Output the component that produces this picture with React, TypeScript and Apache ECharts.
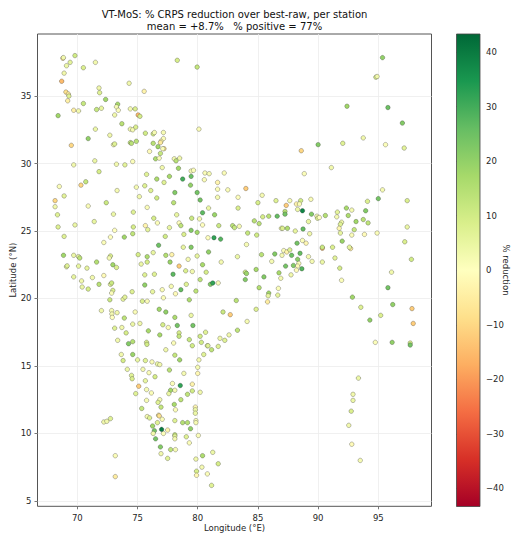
import React, { useEffect, useRef } from "react";
import * as echarts from "echarts";

type Row = [number, number, number];

const titleLines = ["VT-MoS: % CRPS reduction over best-raw, per station", "mean = +8.7%   % positive = 77%"];
const xName = "Longitude (°E)";
const yName = "Latitude (°N)";
const barName = "% reduction";
const lonRange = [66.69, 99.42];
const latRange = [4.6, 39.6];
const pctRange = [-43.3, 43.3];
const lonTicks = [70, 75, 80, 85, 90, 95];
const latTicks = [5, 10, 15, 20, 25, 30, 35];
const pctTicks = [-40, -30, -20, -10, 0, 10, 20, 30, 40];
const rdYlGn = ["#a50026", "#d73027", "#f46d43", "#fdae61", "#fee08b", "#ffffbf", "#d9ef8b", "#a6d96a", "#66bd63", "#1a9850", "#006837"];

const stationsNorth: Row[] = [
  [68.8, 37.8, -8], [68.84, 37.85, 3], [69.8, 38.0, 10], [69.4, 37.5, 6], [69.1, 37.25, 4], [70.5, 37.1, 8], [71.5, 37.5, 3],
  [68.9, 36.7, 3], [68.7, 36.1, -15], [78.3, 37.65, 9], [79.95, 37.15, 12], [71.8, 35.6, 3], [71.85, 35.25, 7], [74.3, 35.95, 3],
  [75.55, 35.35, -3], [69.05, 35.3, -8], [69.25, 35.15, -5], [69.3, 35.0, 7], [69.2, 34.65, -4], [70.5, 34.45, 12], [72.35, 34.75, 18],
  [73.35, 34.4, 17], [73.25, 34.2, 2], [72.0, 34.1, 5], [71.6, 34.0, 12], [73.4, 33.95, 1], [74.4, 34.05, 2], [74.8, 34.05, 8],
  [69.7, 33.95, -4], [70.1, 33.9, 3], [68.4, 33.55, 18], [73.1, 33.6, 3], [75.05, 33.6, -15], [75.2, 33.5, 9], [73.7, 32.95, 14],
  [71.5, 32.55, 4], [74.4, 32.55, 3], [74.6, 32.5, 2], [74.85, 32.7, 8], [75.65, 32.25, 10], [76.3, 32.2, 10], [76.4, 32.3, 2],
  [77.15, 32.3, 2], [80.1, 32.55, 1], [72.7, 32.1, 3], [70.9, 31.85, 20], [69.5, 31.35, -10], [73.0, 31.4, 3], [73.1, 31.45, 7],
  [74.4, 31.55, 12], [74.5, 31.5, 14], [74.9, 31.65, 14], [77.15, 31.85, 1], [76.95, 31.65, -2], [76.9, 31.55, -6], [76.3, 31.5, 14],
  [76.7, 31.25, 18], [77.2, 31.1, -8], [77.1, 31.1, 1], [76.0, 30.9, -1], [76.9, 30.75, 12], [76.5, 30.35, 16], [76.8, 30.4, 1],
  [78.05, 30.35, 2], [78.5, 30.4, 3], [78.2, 30.2, 14], [71.45, 30.2, 4], [69.7, 29.9, 3], [73.25, 29.95, 3], [73.95, 29.9, 6],
  [74.6, 30.15, 1], [71.8, 29.4, 9], [77.05, 29.7, 3], [78.4, 29.65, 18], [79.45, 29.45, 1], [79.65, 29.5, 1], [75.75, 29.2, 7],
  [76.6, 28.85, 16], [77.65, 29.05, 17], [78.75, 28.85, 30], [79.45, 29.05, 25], [80.6, 29.3, 1], [80.95, 29.25, 2], [82.2, 29.3, 1],
  [80.55, 28.8, 1], [81.65, 28.6, -3], [77.2, 28.6, 7], [79.4, 28.4, 20], [68.5, 28.3, 1], [70.3, 28.4, -10], [70.7, 28.65, 12],
  [74.9, 28.25, 2], [75.6, 28.35, 7], [73.3, 28.0, 2], [76.1, 28.0, 7], [81.65, 28.1, 1], [82.5, 28.05, 1],
  [95.35, 37.85, 20], [94.8, 36.4, 8], [94.9, 36.45, 3], [92.4, 34.25, 18], [95.8, 34.15, 25], [97.0, 33.0, 22], [93.75, 31.9, 3],
  [92.05, 31.5, 7], [90.0, 31.4, 22], [88.6, 30.95, -10], [95.6, 31.4, 1], [97.15, 31.15, 6], [91.1, 29.7, 3], [88.85, 29.25, 1],
];

const stationsCentral: Row[] = [
  [68.15, 27.25, -10], [68.9, 27.6, 6], [68.15, 26.8, 3], [68.35, 26.2, 7], [68.4, 25.3, 7], [69.8, 25.45, 4], [68.9, 24.6, 7],
  [70.9, 26.85, 1], [71.4, 25.7, 5], [72.4, 27.1, 11], [73.0, 26.25, 4], [73.1, 25.05, 0], [72.75, 24.55, 0], [72.2, 24.15, 1],
  [73.9, 24.55, 18], [74.65, 26.4, 7], [74.65, 25.3, 9], [74.6, 24.8, 13], [75.15, 27.55, 3], [75.8, 26.75, 1], [76.6, 27.45, 10],
  [76.35, 25.95, 9], [76.65, 25.6, 1], [75.65, 25.4, -3], [75.85, 25.1, 6], [77.65, 25.25, 5], [77.3, 24.6, 10], [78.1, 27.85, 22],
  [78.0, 27.1, 14], [78.25, 26.2, 5], [78.45, 25.6, 0], [78.6, 25.4, 13], [79.5, 25.95, 11], [80.15, 25.9, 2], [80.4, 25.45, 0],
  [79.95, 27.85, 24], [80.2, 27.3, 24], [80.4, 26.35, 27], [81.4, 26.2, 19], [80.9, 26.7, 4], [81.65, 27.5, 2], [83.35, 27.5, 0],
  [83.35, 26.7, 8], [81.75, 25.4, 11], [82.9, 25.4, 14], [83.05, 25.25, 12], [83.45, 25.35, 2], [79.45, 25.05, 22], [79.95, 24.9, 18],
  [78.85, 24.75, 8], [80.85, 24.5, 0], [81.35, 24.5, 32], [81.9, 24.4, 28], [76.75, 23.95, 25], [78.8, 23.8, 5], [79.45, 23.8, 22],
  [80.9, 23.45, 20], [79.95, 23.15, 5], [83.3, 23.1, 4], [75.05, 23.25, 9], [76.3, 23.4, 5], [77.35, 23.2, 15], [77.85, 23.25, -3],
  [75.8, 23.1, 16], [75.8, 22.7, 9], [75.3, 22.55, 4], [77.7, 22.7, 19], [79.2, 22.9, 2], [78.45, 22.4, -12], [80.4, 22.5, 17],
  [81.95, 22.7, 2], [68.85, 23.2, 18], [69.7, 23.2, 4], [70.1, 23.1, 5], [70.2, 23.0, 13], [69.1, 22.35, 4], [69.15, 22.42, 7],
  [70.1, 22.4, 5], [70.8, 22.25, 5], [71.6, 22.7, 15], [72.75, 23.15, 8], [72.65, 23.0, 2], [72.95, 22.5, 18], [73.25, 22.3, 8],
  [69.7, 21.6, 5], [70.35, 21.3, 3], [70.4, 20.85, 4], [70.9, 20.7, 9], [71.25, 21.55, 3], [72.2, 21.7, -1], [71.8, 21.05, 14],
  [72.75, 21.05, 6], [72.85, 21.15, 11], [72.95, 20.6, 8], [72.85, 20.4, 1], [75.6, 21.75, 7], [76.4, 21.8, 7], [77.95, 21.8, 27],
  [79.0, 22.05, 8], [79.55, 22.0, 3], [80.7, 21.95, 9], [80.2, 21.4, 13], [75.6, 21.0, 20], [77.05, 20.65, 1], [77.8, 20.9, 2],
  [79.05, 21.05, 7], [76.25, 20.5, 5], [78.6, 20.65, 26], [79.85, 20.55, 13], [78.15, 20.35, -1], [81.05, 21.05, 22], [81.25, 21.15, 32],
  [81.7, 21.15, 1], [74.55, 20.5, 7], [72.7, 19.9, 11], [73.8, 19.95, 5], [73.95, 20.1, 6], [75.4, 19.8, 8], [75.8, 19.8, 1],
  [77.15, 20.05, 1], [79.3, 19.9, 16], [83.2, 19.85, 14], [72.0, 19.1, 3], [72.85, 19.1, 2], [72.87, 18.85, 2], [72.9, 18.6, 0],
  [73.3, 18.95, 3], [74.8, 19.0, 1], [76.8, 19.2, 18], [77.35, 19.0, 20], [78.1, 18.6, 16], [79.45, 18.75, 4], [82.1, 19.0, 11],
  [82.7, 18.8, -12], [73.9, 18.55, 13], [74.6, 18.1, 4], [75.2, 18.15, 3], [73.1, 17.8, 7], [73.7, 17.85, 3], [74.05, 17.45, 9],
  [75.9, 17.6, 17], [77.1, 18.05, 9], [77.55, 17.85, 1], [78.3, 18.0, 24], [79.6, 18.0, 24], [76.85, 17.3, 17], [78.45, 17.45, 9],
  [78.45, 17.2, 12], [80.65, 17.5, 7], [80.2, 17.2, 10], [81.85, 17.05, 3], [82.6, 17.3, 3], [82.25, 16.9, 7], [83.3, 17.65, 13],
  [73.35, 16.9, 3], [74.25, 16.65, 22], [74.6, 16.8, 15], [75.75, 16.75, 8], [75.78, 16.6, 10], [78.0, 16.7, 1], [79.3, 16.95, 12],
  [80.3, 16.75, 10], [80.8, 16.5, 7],
];

const stationsEast: Row[] = [
  [84.0, 28.15, -12], [85.35, 27.65, 2], [85.0, 27.1, 9], [86.5, 27.25, 7], [87.65, 27.25, 2], [88.55, 27.25, 10], [89.4, 27.35, 1],
  [88.2, 27.0, -3], [88.45, 27.0, 1], [87.35, 26.9, -12], [88.3, 26.6, 4], [87.25, 26.45, 14], [87.25, 26.25, 24], [88.7, 26.5, 38],
  [89.45, 26.25, 22], [85.4, 26.05, 9], [85.9, 26.1, 14], [86.6, 26.1, 26], [89.9, 26.1, 1], [89.95, 25.95, 8], [90.1, 26.0, 0],
  [90.6, 26.15, 15], [91.6, 26.4, 6], [91.55, 26.05, 2], [92.35, 26.7, 17], [92.8, 26.55, 2], [92.5, 26.15, 16], [93.95, 26.5, 22],
  [93.15, 25.7, 18], [93.75, 25.85, 14], [94.15, 25.6, 13], [91.95, 25.65, 3], [91.85, 25.5, 7], [91.75, 25.2, -2], [93.0, 25.1, 12],
  [91.85, 24.85, 5], [92.8, 24.7, 1], [93.85, 24.75, -1], [94.9, 24.85, 1], [97.4, 25.3, 4], [95.35, 28.05, 2], [95.0, 27.4, 24],
  [94.1, 27.2, 8], [97.4, 27.25, 8], [84.7, 25.75, 14], [85.1, 25.55, 14], [89.2, 25.7, 5], [86.95, 25.2, 3], [87.05, 25.2, 8],
  [87.45, 25.2, 16], [88.1, 25.0, 5], [88.75, 25.15, 26], [89.3, 24.8, 3], [84.15, 24.85, 12], [84.9, 24.7, 10], [84.05, 24.0, 2],
  [88.25, 24.1, 24], [88.7, 24.3, 1], [89.0, 24.1, -2], [92.0, 24.25, 19], [97.2, 24.2, 8], [90.35, 23.72, -15], [90.35, 23.8, 11],
  [91.2, 23.8, 8], [92.7, 23.7, -6], [92.6, 23.8, 6], [87.15, 23.55, 1], [87.4, 23.45, -3], [87.65, 23.6, 7], [88.5, 23.35, 26],
  [87.0, 23.2, 2], [87.8, 23.2, 25], [86.4, 23.3, 22], [85.3, 23.25, 14], [88.3, 22.9, 21], [89.2, 23.1, 2], [86.15, 22.75, 2],
  [89.5, 22.75, 2], [90.35, 22.7, 4], [91.4, 23.0, 6], [97.75, 22.9, 10], [87.3, 22.4, 24], [87.95, 22.45, 22], [88.4, 22.6, 1],
  [88.3, 22.4, -1], [88.65, 22.2, 28], [88.2, 22.1, -1], [91.8, 22.25, 9], [84.85, 22.15, 17], [83.95, 21.95, 10], [84.05, 21.85, 19],
  [86.9, 21.5, 2], [86.75, 21.9, 17], [87.75, 21.75, 3], [85.5, 21.6, 22], [83.95, 21.4, 22], [91.95, 21.35, 1], [96.1, 21.95, 3],
  [85.1, 20.8, 15], [86.7, 20.75, 1], [85.9, 20.4, 18], [85.85, 20.2, 5], [86.65, 20.25, 5], [85.8, 19.75, -5], [92.85, 20.1, 18],
  [95.8, 20.8, 24], [96.2, 19.55, 20], [93.55, 19.35, 7], [95.2, 18.75, 8], [94.3, 18.4, 20], [97.8, 19.25, -12], [97.9, 18.15, -12],
  [84.85, 19.2, 7], [84.1, 18.3, 2], [94.75, 16.75, 1], [96.15, 16.75, 20], [97.65, 16.7, 8], [97.65, 16.55, 24],
];

const stationsSouth: Row[] = [
  [73.65, 15.85, 3], [73.8, 15.4, 9], [74.6, 15.85, 19], [75.0, 15.45, 5], [75.65, 15.4, 7], [76.2, 15.3, 1], [76.65, 15.15, 4],
  [76.85, 15.1, 3], [77.35, 16.2, 3], [78.1, 15.8, 12], [78.5, 15.45, 18], [79.55, 16.5, 10], [80.85, 16.5, 7], [81.15, 16.2, 13],
  [81.7, 16.45, 7], [80.5, 15.85, 7], [80.1, 15.45, 2], [80.0, 14.9, 2], [80.0, 14.45, -2], [78.85, 14.45, 2], [77.65, 14.7, 14],
  [74.15, 14.75, 4], [75.45, 14.75, 2], [75.95, 14.5, 1], [76.45, 14.2, 9], [74.5, 14.3, 7], [74.55, 14.05, 8], [75.65, 13.9, 5],
  [75.1, 13.5, -12], [77.9, 13.7, 1], [78.55, 13.55, 32], [79.55, 13.65, -3], [75.75, 13.25, 2], [76.15, 13.0, 1], [74.85, 12.95, 7],
  [77.75, 13.2, 18], [78.1, 13.2, 2], [77.6, 12.95, 5], [79.15, 12.9, 13], [79.55, 13.15, 10], [80.2, 13.05, 3], [75.75, 12.45, 2],
  [76.85, 12.5, 2], [76.7, 12.3, 7], [78.05, 12.15, 17], [78.6, 12.5, 13], [76.95, 11.95, 12], [75.35, 11.85, 12], [79.8, 11.95, -2],
  [79.8, 11.75, 4], [79.8, 11.5, 4], [78.15, 11.75, 1], [76.75, 11.35, -5], [76.8, 11.3, -8], [75.8, 11.25, 2], [76.0, 11.15, 7],
  [77.05, 11.05, 1], [76.65, 10.8, 7], [78.1, 10.95, 7], [78.75, 10.8, 15], [79.15, 10.8, 15], [79.85, 10.95, 1], [79.85, 10.8, 2],
  [76.25, 10.55, 18], [76.4, 10.2, 24], [77.5, 10.25, -3], [76.3, 10.0, 3], [77.15, 10.0, 1], [79.4, 10.35, 20], [78.1, 9.9, 12],
  [78.1, 9.8, 7], [78.1, 9.6, 2], [79.05, 9.75, 7], [80.05, 9.85, 1], [76.5, 9.6, 24], [79.3, 9.3, 1], [76.9, 9.0, 22], [77.75, 8.8, 13],
  [78.15, 8.8, 2], [76.95, 8.5, 3], [77.5, 8.15, 7], [80.4, 8.35, 16], [81.25, 8.6, 4], [79.85, 8.1, 3], [81.7, 7.75, 9], [80.35, 7.5, 2],
  [79.9, 7.2, 9], [79.9, 6.9, -2], [80.8, 7.0, 1], [81.15, 6.15, 7], [72.2, 10.85, 3], [72.45, 10.9, 3], [72.75, 11.1, 7], [73.15, 8.35, 1],
  [73.15, 6.8, -5], [93.35, 14.1, 4], [92.9, 12.9, 3], [92.9, 12.45, 4], [92.75, 11.65, 8], [92.55, 10.6, 3], [92.8, 9.2, -1], [93.5, 8.0, 2],
  [77.0, 10.3, 40],
];

const stations: Row[] = [...stationsNorth, ...stationsCentral, ...stationsEast, ...stationsSouth];

const textColor = "#262626";
const frameColor = "#555555";
const font = "DejaVu Sans";
const minusSign = (v: number | string) => String(v).replace("-", "\u2212");

export default function App() {
  const ref = useRef<HTMLDivElement>(null);

  useEffect(() => {
    if (!ref.current) return;
    const chart = echarts.init(ref.current, undefined, { renderer: "svg" });
    const tickStyle = { show: true, length: 3, lineStyle: { color: frameColor, width: 0.8 } };
    const labelStyle = { color: textColor, fontSize: 8.5, fontFamily: font, margin: 6 };
    const bar = { left: 456.5, top: 34, width: 23.5, height: 472.5 };

    chart.setOption({
      animation: false,
      backgroundColor: "#ffffff",
      textStyle: { fontFamily: font },
      title: {
        text: titleLines.join("\n"),
        left: 234.5,
        top: 8,
        padding: 0,
        textAlign: "center",
        textStyle: { fontSize: 10, fontWeight: "normal", color: "#111111", fontFamily: font, lineHeight: 12 },
      },
      grid: [
        { left: 37.5, top: 34, width: 394, height: 472.3, outerBoundsMode: "none", show: true, borderColor: frameColor, borderWidth: 1, backgroundColor: "#ffffff" },
        { ...bar, outerBoundsMode: "none", show: false },
      ],
      xAxis: [
        {
          type: "value",
          gridIndex: 0,
          min: lonRange[0],
          max: lonRange[1],
          splitNumber: 6,
          name: xName,
          nameLocation: "middle",
          nameGap: 17,
          nameMoveOverlap: false,
          nameTextStyle: { color: textColor, fontSize: 8.5, fontFamily: font },
          axisLine: { show: false },
          axisTick: { ...tickStyle, customValues: lonTicks },
          axisLabel: { ...labelStyle, margin: 7, customValues: lonTicks },
          splitLine: { show: true, lineStyle: { color: "#ececec", width: 0.8 } },
        },
        { type: "value", gridIndex: 1, min: 0, max: 1, show: false },
      ],
      yAxis: [
        {
          type: "value",
          gridIndex: 0,
          min: latRange[0],
          max: latRange[1],
          splitNumber: 7,
          name: yName,
          nameLocation: "middle",
          nameGap: 20,
          nameMoveOverlap: false,
          nameTextStyle: { color: textColor, fontSize: 8.5, fontFamily: font },
          axisLine: { show: false },
          axisTick: { ...tickStyle, customValues: latTicks },
          axisLabel: { ...labelStyle, customValues: latTicks },
          splitLine: { show: true, lineStyle: { color: "#ececec", width: 0.8 } },
        },
        {
          type: "value",
          gridIndex: 1,
          position: "right",
          min: pctRange[0],
          max: pctRange[1],
          splitNumber: 9,
          axisLine: { show: false },
          axisTick: { ...tickStyle, customValues: pctTicks },
          axisLabel: { ...labelStyle, customValues: pctTicks, formatter: (v: number) => minusSign(v) },
          splitLine: { show: false },
        },
      ],
      visualMap: {
        show: false,
        seriesIndex: 0,
        dimension: 2,
        min: pctRange[0],
        max: pctRange[1],
        inRange: { color: rdYlGn },
      },
      graphic: [
        {
          type: "rect",
          silent: true,
          z: 1,
          shape: { x: bar.left, y: bar.top, width: bar.width, height: bar.height },
          style: {
            fill: new echarts.graphic.LinearGradient(
              0, 1, 0, 0,
              rdYlGn.map((color, i) => ({ offset: i / (rdYlGn.length - 1), color })),
            ),
            stroke: "#444444",
            lineWidth: 0.8,
          },
        },
        {
          type: "text",
          silent: true,
          x: 505.5,
          y: 270,
          rotation: -Math.PI / 2,
          style: { text: barName, fill: textColor, fontSize: 8.5, fontFamily: font, textAlign: "center", textVerticalAlign: "middle" },
        },
      ],
      series: [
        {
          type: "scatter",
          xAxisIndex: 0,
          yAxisIndex: 0,
          data: stations,
          symbol: "circle",
          symbolSize: 4.5,
          silent: true,
          z: 3,
          itemStyle: { borderColor: "rgba(40,40,40,0.6)", borderWidth: 0.5, opacity: 1 },
        },
      ],
    });
    return () => chart.dispose();
  }, []);

  return <div ref={ref} style={{ position: "fixed", left: 0, top: 0, width: 511, height: 537, background: "#fff" }} />;
}
